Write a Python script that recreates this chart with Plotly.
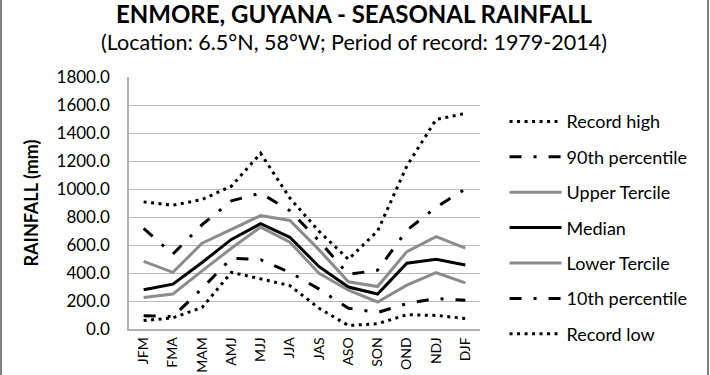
import plotly.graph_objects as go

seasons = ["JFM", "FMA", "MAM", "AMJ", "MJJ", "JJA", "JAS", "ASO", "SON", "OND", "NDJ", "DJF"]
record_high = [908, 884, 925, 1020, 1255, 935, 697, 498, 700, 1165, 1497, 1540]
p90 = [718, 535, 745, 915, 970, 845, 630, 390, 420, 705, 870, 1000]
upper_tercile = [483, 405, 613, 709, 810, 775, 565, 337, 303, 553, 660, 577]
median = [280, 320, 475, 640, 752, 655, 445, 300, 250, 470, 498, 457]
lower_tercile = [225, 250, 415, 577, 728, 620, 397, 277, 193, 313, 402, 330]
p10 = [95, 88, 290, 505, 495, 405, 285, 148, 118, 182, 218, 205]
record_low = [60, 80, 153, 405, 358, 310, 148, 25, 38, 102, 97, 75]

FONT = "Lato"
dotted = "3px,4.5px"
dashdot = "12px,12px,3px,12px"

series = [
    ("Record high", record_high, "black", dotted),
    ("90th percentile", p90, "black", dashdot),
    ("Upper Tercile", upper_tercile, "#8c8c8c", "solid"),
    ("Median", median, "black", "solid"),
    ("Lower Tercile", lower_tercile, "#8c8c8c", "solid"),
    ("10th percentile", p10, "black", dashdot),
    ("Record low", record_low, "black", dotted),
]

fig = go.Figure()
for i, (name, vals, col, dash) in enumerate(series):
    fig.add_trace(go.Scatter(
        x=seasons, y=vals, name=name, mode="lines",
        line=dict(color=col, width=3, dash=dash),
        legendgroup="g%d" % i,
    ))

fig.update_layout(
    width=710, height=375,
    margin=dict(l=129, r=230, t=77, b=46, autoexpand=False),
    paper_bgcolor="white", plot_bgcolor="white",
    font=dict(family=FONT, size=17, color="black"),
    showlegend=True,
    legend=dict(
        x=1.07, xanchor="left", y=0.896, yanchor="top",
        font=dict(family=FONT, size=18, color="black"),
        tracegroupgap=9, itemwidth=52, bgcolor="rgba(0,0,0,0)",
        maxheight=1.0,
    ),
    xaxis=dict(
        type="category", range=[-0.5, 11.5], tickangle=-90,
        showline=True, linecolor="#b0b0b0", linewidth=1.5,
        showgrid=False, ticks="", ticklabelstandoff=1,
        tickfont=dict(family=FONT, size=14),
    ),
    yaxis=dict(
        range=[0, 1800], dtick=200, tick0=0, tickformat=".1f",
        showline=True, linecolor="#b0b0b0", linewidth=1.5,
        showgrid=True, gridcolor="#b8b8b8", gridwidth=1.2,
        zeroline=False, ticks="", ticklabelstandoff=14,
        tickfont=dict(family=FONT, size=17),
        title=dict(text="<b>RAINFALL (mm)</b>", font=dict(family=FONT, size=18), standoff=13),
    ),
    annotations=[
        dict(text="<b>ENMORE, GUYANA - SEASONAL RAINFALL</b>", xref="paper", yref="paper",
             x=0.643, y=(329 - 13) / 252, xanchor="center", yanchor="middle", showarrow=False,
             font=dict(family=FONT, size=24, color="black")),
        dict(text="(Location: 6.5°N, 58°W; Period of record: 1979-2014)", xref="paper", yref="paper",
             x=0.64, y=(329 - 42) / 252, xanchor="center", yanchor="middle", showarrow=False,
             font=dict(family=FONT, size=21.5, color="black")),
    ],
    shapes=[
        dict(type="line", xref="paper", yref="paper", x0=(1 - 129) / 351, x1=(1 - 129) / 351,
             y0=-1, y1=2, line=dict(color="#808080", width=2)),
        dict(type="line", xref="paper", yref="paper", x0=(708 - 129) / 351, x1=(708 - 129) / 351,
             y0=-1, y1=2, line=dict(color="#808080", width=2)),
    ],
)

fig.write_html("out.html", config={"displayModeBar": False},
               post_script="document.body.style.margin='0';document.body.style.overflow='hidden';")
